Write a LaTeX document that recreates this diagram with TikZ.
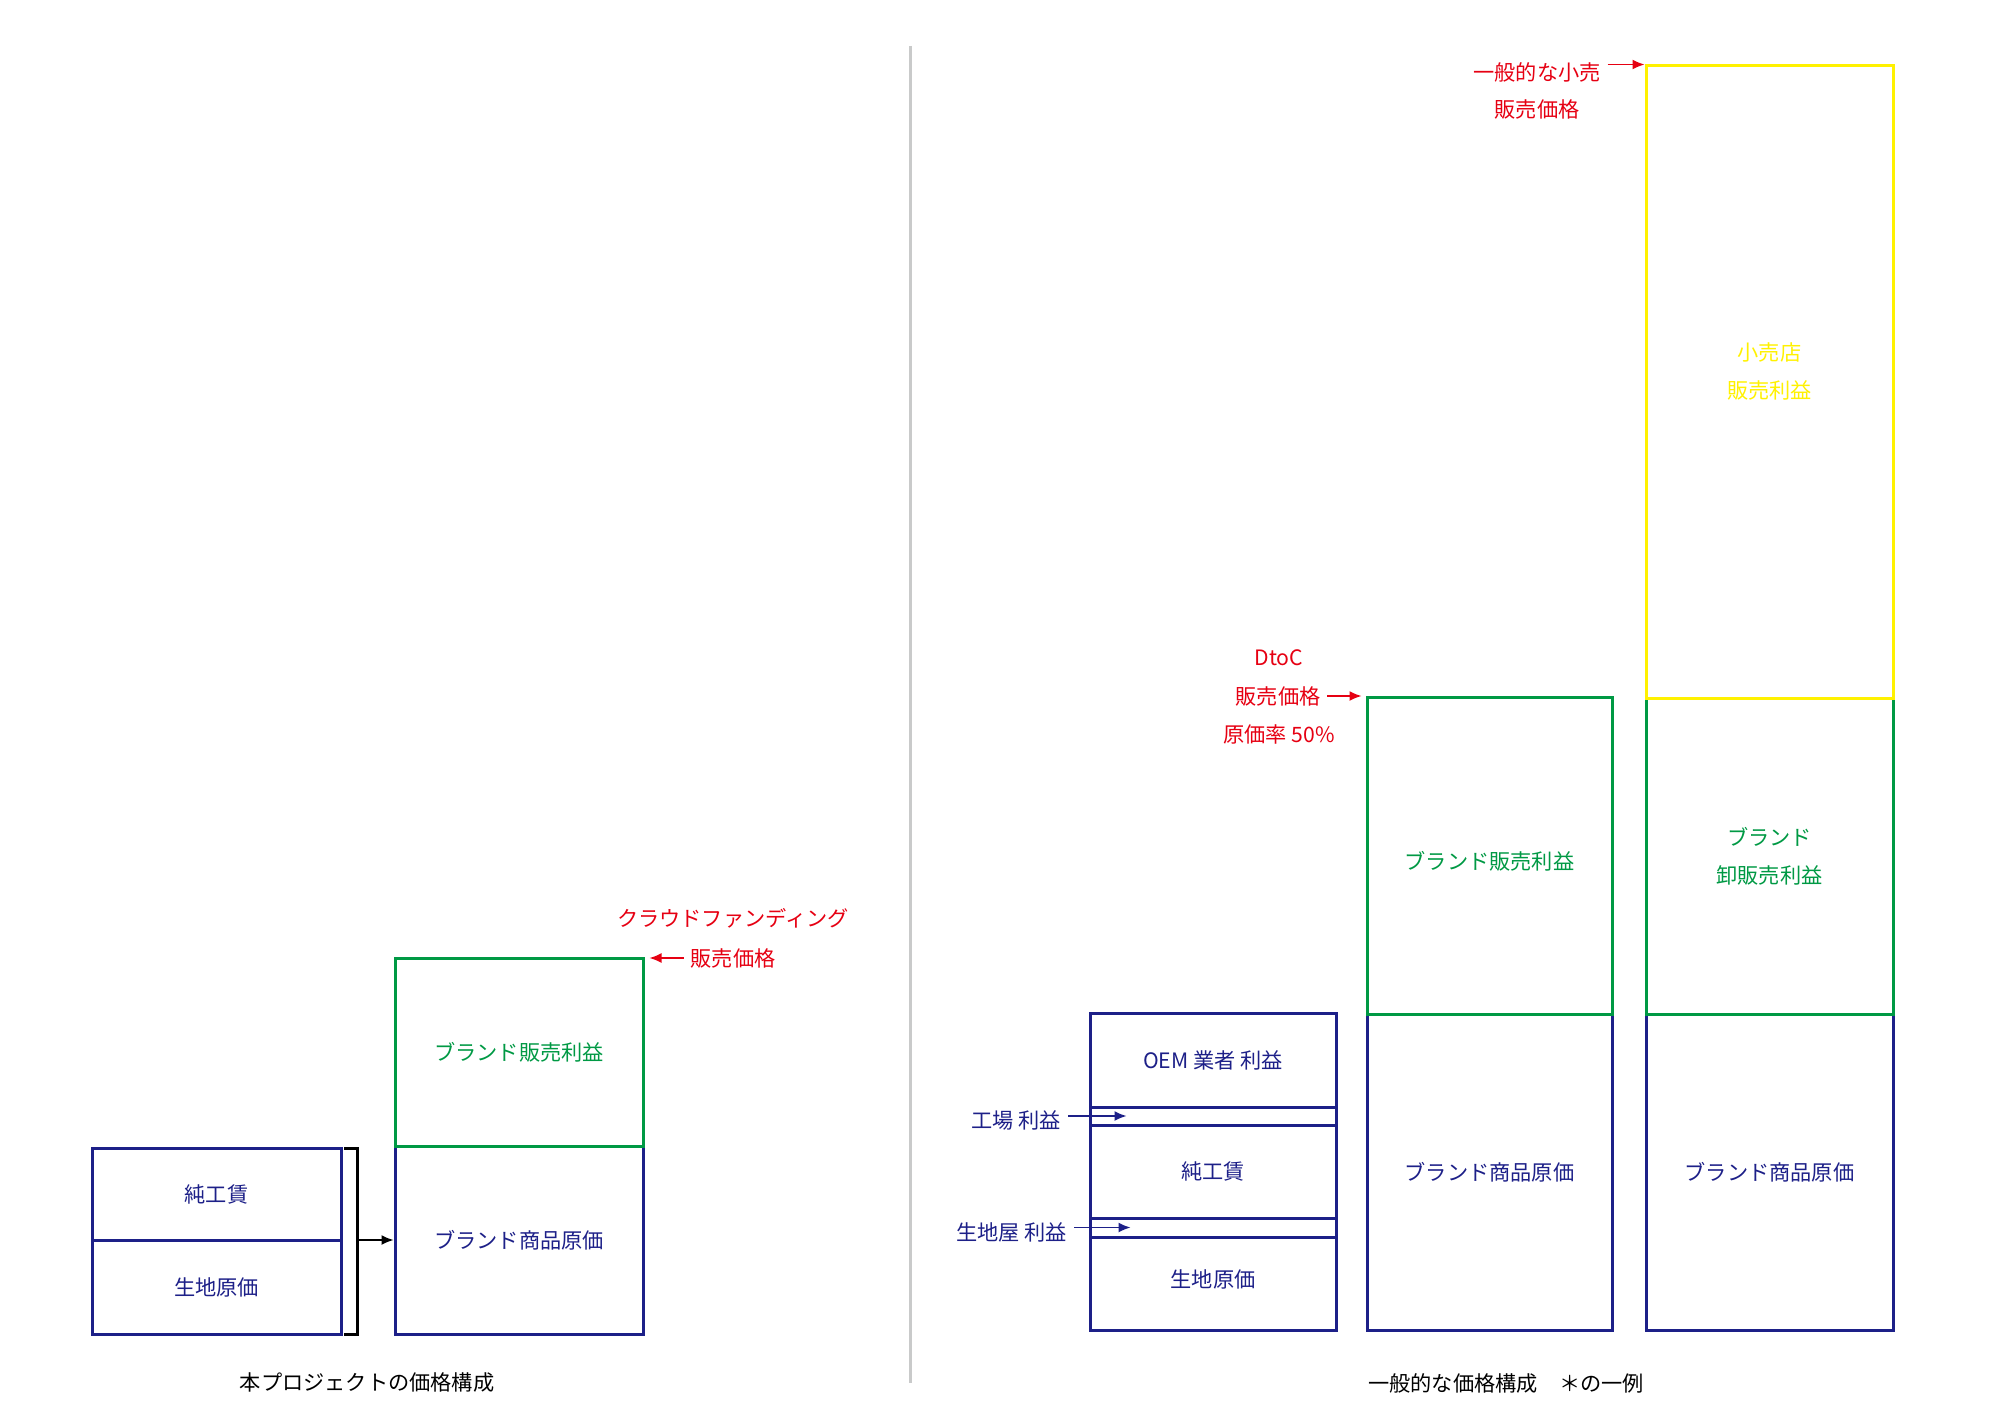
\documentclass[tikz,border=0pt]{standalone}
\usepackage{fontspec}
\usepackage{tikz}
\usetikzlibrary{arrows.meta,calc}
\newfontfamily\jpfont{Noto Sans CJK JP}
\definecolor{navyblue}{HTML}{1D2088}
\definecolor{brandgreen}{HTML}{009944}
\definecolor{alertred}{HTML}{E60012}
\definecolor{retailyellow}{HTML}{FFF100}
\definecolor{rulegray}{HTML}{C9CACA}

\begin{document}
\begin{tikzpicture}[x=0.5pt,y=-0.5pt,font=\jpfont\fontsize{10.6}{19}\selectfont,every text node part/.style={align=center},
blk/.style 2 args={minimum width=#1*0.5pt,minimum height=#2*0.5pt,inner sep=0pt,line width=1.5pt},
costblk/.style={draw=navyblue,text=navyblue},
profitblk/.style={draw=brandgreen,text=brandgreen},
retailblk/.style={draw=retailyellow,text=retailyellow},
note/.style={text=alertred},
navytext/.style={text=navyblue},
notearrow/.style={draw=alertred,line width=0.75pt,-{Latex[length=6pt,width=5pt]}},
navyarrow/.style={draw=navyblue,line width=0.75pt,-{Latex[length=6pt,width=5pt]}},
stackarrow/.style={line width=0.75pt,-{Latex[length=6pt,width=5pt]}}]
\useasboundingbox (0,0) rectangle (2000,1413);
\node[blk={249}{92},costblk] (lgap) at (216.5,1194) {純工賃};
\node[blk={249}{94},costblk] (lraw) at (216.5,1287) {生地原価};
\node[blk={248}{188},costblk] (lcost) at (519,1240) {ブランド商品原価};
\node[blk={248}{188},profitblk] (lprofit) at (519,1052) {ブランド販売利益};
\draw[line width=1.5pt] (344,1148) -- (357,1148) -- (357,1334) -- (344,1334);
\coordinate (lbracket) at (357,1240);
\draw[stackarrow] (lbracket) -- (lcost.west);
\node[note] (cfname) at (733,918) {クラウドファンディング};
\node[note] (cfprice) at (733,958) {販売価格};
\draw[notearrow] (cfprice.west) -- ($(cfprice.west -| lprofit.east)+(5,0)$);
\node (lcaption) at (367,1382) {本プロジェクトの価格構成};

\draw[rulegray,line width=1.5pt] (910,46) -- (910,1383);

\node[blk={246}{94},costblk] (oem) at (1213,1060) {OEM 業者 利益};
\node[blk={246}{18},costblk] (factory) at (1213,1116) {};
\node[blk={246}{93},costblk] (olabor) at (1213,1171.5) {純工賃};
\node[blk={246}{19},costblk] (millband) at (1213,1227.5) {};
\node[blk={246}{93},costblk,text depth=5pt] (oraw) at (1213,1283.5) {生地原価};
\node[navytext,anchor=east] (factorylbl) at (1068,1120) {工場 利益};
\draw[navyarrow] (factorylbl.east |- factory.center) -- ($(factory.west)+(38,0)$);
\node[navytext,anchor=east] (milllbl) at (1074,1232) {生地屋 利益};
\draw[navyarrow] (milllbl.east |- millband.center) -- ($(millband.west)+(42,0)$);

\node[blk={245}{316},costblk] (mcost) at (1489.5,1172) {ブランド商品原価};
\node[blk={245}{317},profitblk] (mprofit) at (1489.5,855.5) {};
\node[text=brandgreen] (mprofittxt) at (1489.5,861) {ブランド販売利益};
\node[note] (dtocname) at (1279,658) {DtoC};
\node[note] (dtocprice) at (1278,696) {販売価格};
\node[note] (dtocrate) at (1279,734) {原価率 50\%};
\draw[notearrow] (dtocprice.east) -- ($(dtocprice.east -| mprofit.west)+(-4,0)$);

\node[blk={247}{316},costblk] (rcost) at (1769.5,1172) {ブランド商品原価};
\node[blk={247}{316},profitblk] (rwhole) at (1769.5,856) {ブランド\\卸販売利益};
\node[blk={247}{632},retailblk] (rretail) at (1769.5,382) {};
\node[text=retailyellow] (rretailtxt) at (1769.5,371) {小売店\\販売利益};
\node[note] (rtop) at (1537,72) {一般的な小売};
\node[note] (rprice) at (1537,109) {販売価格};
\draw[notearrow] (rtop.east |- rretail.north) -- (rretail.north west);
\node (rcaption) at (1506,1383) {一般的な価格構成　＊の一例};
\end{tikzpicture}
\end{document}
